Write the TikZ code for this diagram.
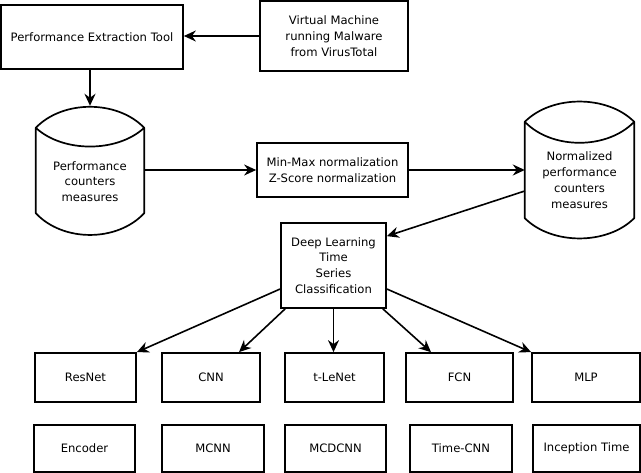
\documentclass[tikz,border=0pt]{standalone}
\usepackage{fontspec}
\setmainfont{DejaVu Sans}
\usepackage{tikz}
\usetikzlibrary{positioning,calc,arrows.meta}

\begin{document}
\begin{tikzpicture}[x=1pt, y=1pt]
	\tikzset{
		b/.style={rectangle, draw=black, line width=1.7pt, align=center,
			inner sep=0pt, font=\fontsize{11.6}{15.8}\selectfont},
		db/.style={rectangle, align=center, inner sep=0pt,
			font=\fontsize{11.6}{15.8}\selectfont},
		dbline/.style={draw=black, line width=1.7pt, line join=round},
		a/.style={line width=1.6pt, -{Stealth[length=12pt, width=11pt]}}
	}
	\useasboundingbox (0,0) rectangle (641,-473);
	
	\node[b, minimum width=182, minimum height=64] (pet) at (92,-37) {Performance Extraction Tool};
	\node[b, minimum width=148, minimum height=70] (vm) at (334,-36) {Virtual Machine\\running Malware\\from VirusTotal};
	\node[db, minimum width=108, minimum height=107] (pcm) at (90,-181.5) {Performance\\counters\\measures};
	\node[b, minimum width=151, minimum height=54] (mm) at (332.5,-170) {Min-Max normalization\\Z-Score normalization};
	\node[db, minimum width=109, minimum height=116] (npc) at (579.5,-180) {Normalized\\performance\\counters\\measures};
	\node[b, minimum width=105, minimum height=85] (dl) at (333.5,-265.5) {Deep Learning\\Time\\Series\\Classification};
	
	\node[b, minimum width=101, minimum height=49] (resnet) at (85.5,-377.5) {ResNet};
	\node[b, minimum width=98, minimum height=49] (cnn) at (211,-377.5) {CNN};
	\node[b, minimum width=99, minimum height=49] (tlenet) at (334.5,-377.5) {t-LeNet};
	\node[b, minimum width=107, minimum height=49] (fcn) at (459.5,-377.5) {FCN};
	\node[b, minimum width=108, minimum height=49] (mlp) at (586,-377.5) {MLP};
	
	\node[b, minimum width=101, minimum height=47] (enc) at (84.5,-448.5) {Encoder};
	\node[b, minimum width=102, minimum height=47] (mcnn) at (213,-448.5) {MCNN};
	\node[b, minimum width=101, minimum height=47] (mcdcnn) at (335.5,-448.5) {MCDCNN};
	\node[b, minimum width=102, minimum height=47] (tcnn) at (461,-448.5) {Time-CNN};
	\node[b, minimum width=107, minimum height=47] (incep) at (586.5,-448.5) {Inception Time};
	
	\draw[dbline] (pcm.north west) .. controls +(27,28) and +(-27,28) .. (pcm.north east)
		.. controls +(-27,-25) and +(27,-25) .. (pcm.north west)
		-- ([yshift=22]pcm.south west) .. controls +(27,-29) and +(-27,-29) .. ([yshift=22]pcm.south east)
		-- (pcm.north east);
	\draw[dbline] (npc.north west) .. controls +(27,27) and +(-27,27) .. (npc.north east)
		.. controls +(-27,-28) and +(27,-28) .. (npc.north west)
		-- ([yshift=20]npc.south west) .. controls +(27,-27) and +(-27,-27) .. ([yshift=20]npc.south east)
		-- (npc.north east);
	
	\draw[a] (vm.west) -- (vm.west -| pet.east);
	\draw[a] (pet.south -| pcm.north) -- ([yshift=22]pcm.north);
	\draw[a] (pcm.east |- mm.west) -- (mm.west);
	\draw[a] (mm.east) -- (mm.east -| npc.west);
	\draw[a] ([yshift=-11]npc.west) -- ([yshift=-14]dl.north east);
	
	\draw[a] ([yshift=-23.5]dl.west) -- (resnet.north east);
	\draw[a] ([xshift=5]dl.south west) -- ([xshift=28]cnn.north);
	\draw[a] (dl.south) -- (dl.south |- tlenet.north);
	\draw[a] ([xshift=-4]dl.south east) -- ([xshift=-28.5]fcn.north);
	\draw[a] ([yshift=-23.5]dl.east) -- (mlp.north west);
\end{tikzpicture}
\end{document}
